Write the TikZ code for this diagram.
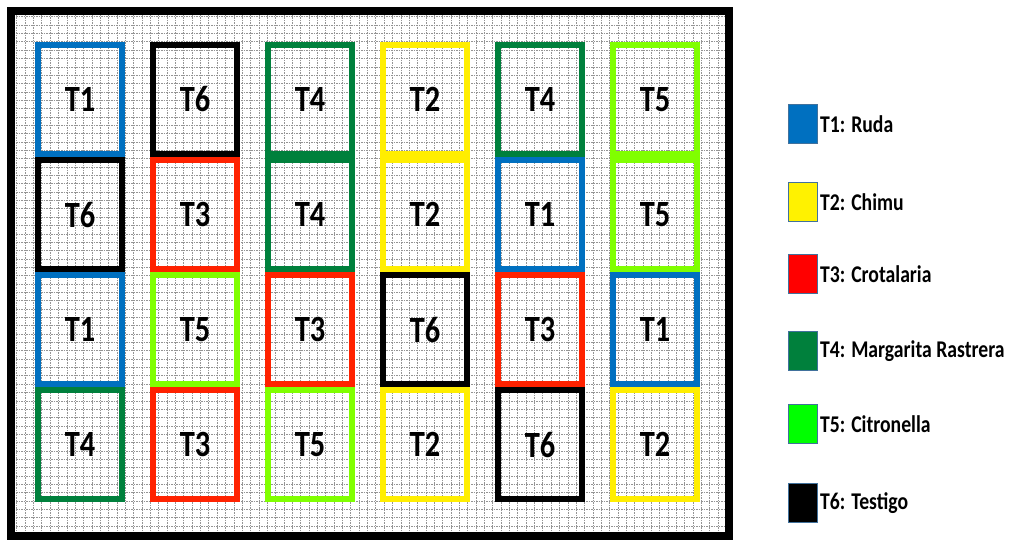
\documentclass[tikz,border=0pt]{standalone}
\usepackage{fontspec}
\setmainfont{Carlito}[FakeStretch=0.82]
\usepackage{xcolor}
\usetikzlibrary{positioning,shadows}
\definecolor{rudaC}{HTML}{0070C0}
\definecolor{chimuC}{HTML}{FFEE00}
\definecolor{crotaC}{HTML}{FF2200}
\definecolor{margaC}{HTML}{00803C}
\definecolor{citroC}{HTML}{80FF00}
\definecolor{keyedge}{HTML}{41719C}
\tikzset{
  parcela/.style = {draw, line width=6pt, minimum width=84pt, minimum height=109pt,
                    inner sep=0pt, font=\fontsize{37}{37}\selectfont\bfseries},
  ruda/.style    = {parcela, draw=rudaC},
  chimu/.style   = {parcela, draw=chimuC},
  crota/.style   = {parcela, draw=crotaC},
  marga/.style   = {parcela, draw=margaC},
  citro/.style   = {parcela, draw=citroC},
  testigo/.style = {parcela, draw=black},
  key/.style     = {draw=keyedge, line width=1pt, minimum width=29pt,
                    minimum height=39pt, inner sep=0pt},
  keylbl/.style  = {font=\fontsize{24}{24}\selectfont\bfseries, inner sep=1pt, anchor=west},
  gridln/.style  = {black!42, line width=0.6pt, dash pattern=on 1.5pt off 1pt},
}

\begin{document}
\begin{tikzpicture}[x=1pt, y=-1pt]
\useasboundingbox (0,0) rectangle (1009,539);

% field and its grid
\fill[white, drop shadow={shadow xshift=4pt, shadow yshift=-3pt, opacity=0.35}]
     (11,11) rectangle (729,536);
\begin{scope}
  \clip (11,11) rectangle (729,536);
  \draw[gridln] (11,11) grid[step=8.35pt] (729,536);
\end{scope}
\draw[line width=8pt] (11,11) rectangle (729,536);

% row 1
\node[ruda]    (p11) at (80,99.5)  {T1};
\node[testigo] (p12) at (195,99.5) {T6};
\node[marga]   (p13) at (310,99.5) {T4};
\node[chimu]   (p14) at (425,99.5) {T2};
\node[marga]   (p15) at (540,99.5) {T4};
\node[citro]   (p16) at (655,99.5) {T5};

% row 2
\node[testigo] (p21) at (80,214.5)  {T6};
\node[crota]   (p22) at (195,214.5) {T3};
\node[marga]   (p23) at (310,214.5) {T4};
\node[chimu]   (p24) at (425,214.5) {T2};
\node[ruda]    (p25) at (540,214.5) {T1};
\node[citro]   (p26) at (655,214.5) {T5};

% row 3
\node[ruda]    (p31) at (80,329.5)  {T1};
\node[citro]   (p32) at (195,329.5) {T5};
\node[crota]   (p33) at (310,329.5) {T3};
\node[testigo] (p34) at (425,329.5) {T6};
\node[crota]   (p35) at (540,329.5) {T3};
\node[ruda]    (p36) at (655,329.5) {T1};

% row 4
\node[marga]   (p41) at (80,444.5)  {T4};
\node[crota]   (p42) at (195,444.5) {T3};
\node[citro]   (p43) at (310,444.5) {T5};
\node[chimu]   (p44) at (425,444.5) {T2};
\node[testigo] (p45) at (540,444.5) {T6};
\node[chimu]   (p46) at (655,444.5) {T2};

% legend
\node[key, fill=rudaC]      (k1) at (803,124) {};
\node[key, fill=yellow]     (k2) at (803,202) {};
\node[key, fill=red]        (k3) at (803,274) {};
\node[key, fill=margaC]     (k4) at (803,351) {};
\node[key, fill=green]      (k5) at (803,424) {};
\node[key, fill=black]      (k6) at (803,503) {};

\node[keylbl, right=1pt of k1] (l1) {T1: Ruda};
\node[keylbl, right=1pt of k2] (l2) {T2: Chimu};
\node[keylbl, right=1pt of k3] (l3) {T3: Crotalaria};
\node[keylbl, right=1pt of k4] (l4) {T4: Margarita Rastrera};
\node[keylbl, right=1pt of k5] (l5) {T5: Citronella};
\node[keylbl, right=1pt of k6] (l6) {T6: Testigo};
\end{tikzpicture}
\end{document}
